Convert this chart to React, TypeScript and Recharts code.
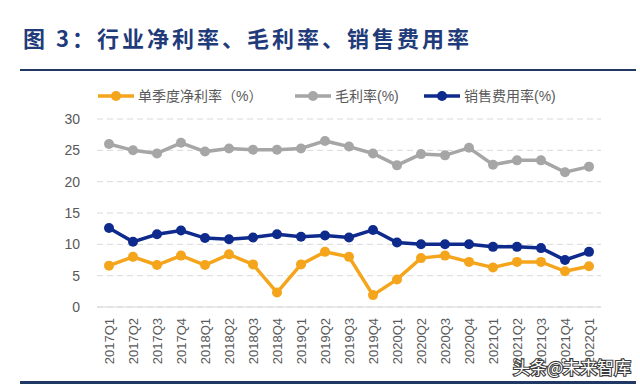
import React from "react";
import { LineChart, Line, XAxis, YAxis, CartesianGrid } from "recharts";

const quarters = [
  "2017Q1", "2017Q2", "2017Q3", "2017Q4",
  "2018Q1", "2018Q2", "2018Q3", "2018Q4",
  "2019Q1", "2019Q2", "2019Q3", "2019Q4",
  "2020Q1", "2020Q2", "2020Q3", "2020Q4",
  "2021Q1", "2021Q2", "2021Q3", "2021Q4",
  "2022Q1",
];
const netMargin = [6.6, 8.0, 6.7, 8.2, 6.7, 8.4, 6.8, 2.3, 6.8, 8.8, 8.0, 1.9, 4.4, 7.8, 8.2, 7.2, 6.3, 7.2, 7.2, 5.7, 6.5];
const grossMargin = [26.0, 25.0, 24.5, 26.2, 24.8, 25.3, 25.1, 25.1, 25.3, 26.5, 25.6, 24.5, 22.6, 24.4, 24.2, 25.4, 22.7, 23.4, 23.4, 21.5, 22.4];
const sellingRate = [12.6, 10.4, 11.6, 12.2, 11.0, 10.8, 11.1, 11.6, 11.2, 11.4, 11.1, 12.3, 10.3, 10.0, 10.0, 10.0, 9.6, 9.6, 9.4, 7.5, 8.8];
const yTicks = [0, 5, 10, 15, 20, 25, 30];

const seriesNames = ["单季度净利率（%）", "毛利率(%)", "销售费用率(%)"];
const seriesColors = ["#F5A51C", "#A6A6A6", "#0D2A8C"];

const data = quarters.map((q, i) => ({
  q,
  net: netMargin[i],
  gross: grossMargin[i],
  selling: sellingRate[i],
}));

const legendLeft = [98, 295, 424];
const textFont = "'Liberation Sans', 'Noto Sans CJK SC', sans-serif";

function QuarterTick(props: any) {
  const { x, y, payload } = props;
  return (
    <text
      x={x}
      y={y}
      transform={`rotate(-90, ${x}, ${y})`}
      dy="0.36em"
      textAnchor="end"
      fontSize={13}
      fill="#595959"
      fontFamily={textFont}
    >
      {payload.value}
    </text>
  );
}

function LegendIcon({ color }: { color: string }) {
  return (
    <svg width={36} height={12} style={{ display: "block" }}>
      <line x1={0} y1={6} x2={36} y2={6} stroke={color} strokeWidth={3.5} />
      <circle cx={18} cy={6} r={5} fill={color} />
    </svg>
  );
}

export default function App() {
  return (
    <div style={{ position: "absolute", left: 0, top: 0, width: 640, height: 385, background: "#fff", overflow: "hidden" }}>
      <div
        style={{
          position: "absolute",
          left: 23,
          top: 22,
          fontFamily: "'Noto Sans CJK SC', sans-serif",
          fontWeight: 700,
          fontSize: 22,
          letterSpacing: 3,
          color: "#1F3B7A",
          whiteSpace: "nowrap",
          lineHeight: "30px",
        }}
      >
        图 3：行业净利率、毛利率、销售费用率
      </div>
      <div style={{ position: "absolute", left: 20, top: 69, width: 616, height: 2, background: "#1F3864" }} />

      {seriesNames.map((name, i) => (
        <div
          key={name}
          style={{
            position: "absolute",
            left: legendLeft[i],
            top: 87,
            display: "flex",
            alignItems: "center",
            gap: 4,
            whiteSpace: "nowrap",
          }}
        >
          <LegendIcon color={seriesColors[i]} />
          <span style={{ fontFamily: textFont, fontSize: 14, color: "#595959", lineHeight: "18px" }}>{name}</span>
        </div>
      ))}

      <div style={{ position: "absolute", left: 0, top: 0 }}>
        <LineChart width={640} height={385} data={data} margin={{ top: 119, right: 39, bottom: 0, left: 0 }}>
          <CartesianGrid vertical={false} stroke="#D9D9D9" strokeDasharray="6 4" />
          <XAxis
            dataKey="q"
            interval={0}
            padding={{ left: 12, right: 12 }}
            tickLine={false}
            axisLine={{ stroke: "#D9D9D9", strokeWidth: 1 }}
            tickMargin={5}
            tick={<QuarterTick />}
            height={78}
          />
          <YAxis
            width={97}
            domain={[0, 30]}
            ticks={yTicks}
            interval={0}
            axisLine={false}
            tickLine={false}
            tickMargin={11}
            tick={{ fontSize: 14, fill: "#595959", fontFamily: textFont }}
          />
          <Line type="linear" dataKey="net" stroke={seriesColors[0]} strokeWidth={3.5} dot={{ r: 5, fill: seriesColors[0], stroke: "none" }} activeDot={false} isAnimationActive={false} />
          <Line type="linear" dataKey="gross" stroke={seriesColors[1]} strokeWidth={3.5} dot={{ r: 5, fill: seriesColors[1], stroke: "none" }} activeDot={false} isAnimationActive={false} />
          <Line type="linear" dataKey="selling" stroke={seriesColors[2]} strokeWidth={3.5} dot={{ r: 5, fill: seriesColors[2], stroke: "none" }} activeDot={false} isAnimationActive={false} />
        </LineChart>
      </div>

      <svg width={640} height={385} style={{ position: "absolute", left: 0, top: 0, pointerEvents: "none" }}>
        <text
          x={513}
          y={374}
          fontSize={17}
          fontFamily="'Noto Sans CJK SC', sans-serif"
          fill="#ffffff"
          stroke="#3a3a3a"
          strokeWidth={2.2}
          paintOrder="stroke"
        >
          头条@未来智库
        </text>
      </svg>
      <div style={{ position: "absolute", left: 20, top: 381, width: 616, height: 3, background: "#1F3864" }} />
    </div>
  );
}
